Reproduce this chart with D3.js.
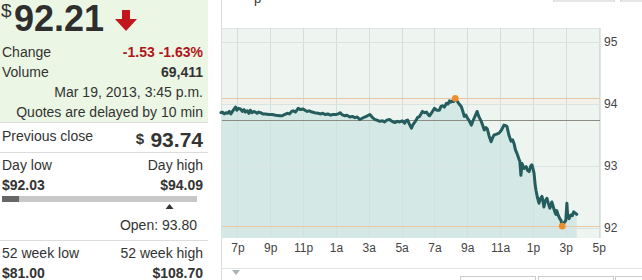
<!DOCTYPE html>
<meta charset="utf-8">
<script src="https://d3js.org/d3.v7.min.js"></script>
<style>
  body { margin: 0; background: #fff; }
  svg text { font-family: "Liberation Sans", Arial, sans-serif; fill: #333; }
</style>
<body>
<div id="quote"></div>
<script>
// intraday prices, 18 Mar 6p -> 19 Mar 3:40p
var times = ["18:00","18:05","18:12","18:18","18:24","18:30","18:36","18:45","18:53","18:58",
  "19:04","19:11","19:18","19:24","19:29","19:36","19:42","19:47","19:53","20:00",
  "20:05","20:12","20:18","20:24","20:33","20:42","20:55","21:07","21:20","21:35",
  "21:44","21:52","22:02","22:10","22:18","22:24","22:32","22:42","22:50","23:00",
  "23:07","23:15","23:22","23:33","23:42","23:55","00:05","00:12","00:20","00:30",
  "00:40","00:49","01:00","01:08","01:15","01:22","01:33","01:40","01:51","02:00",
  "02:09","02:18","02:27","02:36","02:45","02:55","03:04","03:12","03:22","03:30",
  "03:40","03:50","03:58","04:06","04:16","04:25","04:35","04:44","04:53","05:02",
  "05:11","05:16","05:22","05:28","05:36","05:42","05:47","05:53","05:58","06:06",
  "06:16","06:24","06:31","06:37","06:42","06:50","07:00","07:08","07:18","07:24",
  "07:29","07:36","07:44","07:50","07:55","08:00","08:05","08:10","08:16","08:20",
  "08:24","08:30","08:38","08:44","08:49","08:55","09:00","09:08","09:15","09:20",
  "09:25","09:30","09:36","09:42","09:51","09:56","10:02","10:08","10:13","10:20",
  "10:27","10:33","10:38","10:45","10:56","11:05","11:14","11:20","11:25","11:32",
  "11:40","11:46","11:51","11:56","12:02","12:08","12:12","12:16","12:20","12:27",
  "12:35","12:40","12:46","12:52","12:56","13:00","13:04","13:08","13:11","13:16",
  "13:22","13:27","13:33","13:37","13:40","13:45","13:51","13:56","14:02","14:06",
  "14:09","14:15","14:20","14:24","14:27","14:33","14:38","14:42","14:47","14:52",
  "14:56","15:00","15:04","15:07","15:12","15:18","15:24","15:29","15:35","15:40"];
var prices = [93.86,93.87,93.84,93.86,93.85,93.88,93.84,93.90,93.95,93.90,
  93.93,93.92,93.88,93.91,93.87,93.89,93.85,93.90,93.86,93.88,
  93.87,93.85,93.87,93.86,93.84,93.84,93.83,93.83,93.82,93.81,
  93.81,93.83,93.85,93.84,93.88,93.89,93.87,93.93,93.91,93.92,
  93.90,93.88,93.89,93.87,93.86,93.85,93.84,93.85,93.83,93.84,
  93.82,93.83,93.83,93.84,93.86,93.83,93.81,93.82,93.79,93.80,
  93.78,93.79,93.75,93.77,93.79,93.81,93.83,93.79,93.75,93.74,
  93.72,93.73,93.71,93.74,93.75,93.72,93.70,93.72,93.71,93.73,
  93.69,93.73,93.74,93.68,93.61,93.67,93.70,93.74,93.78,93.80,
  93.88,93.86,93.87,93.83,93.81,93.86,93.93,93.90,93.90,93.96,
  93.97,93.95,94.01,94.00,94.05,94.03,94.05,94.04,94.09,94.06,
  94.04,94.00,93.96,93.88,93.80,93.82,93.78,93.72,93.66,93.72,
  93.77,93.82,93.88,93.80,93.72,93.66,93.58,93.62,93.60,93.48,
  93.39,93.46,93.50,93.51,93.53,93.58,93.66,93.65,93.64,93.50,
  93.40,93.42,93.36,93.26,93.20,93.12,93.08,92.85,93.04,92.96,
  92.99,92.93,92.91,93.00,93.02,92.96,92.88,92.70,92.61,92.50,
  92.40,92.47,92.51,92.42,92.34,92.44,92.48,92.40,92.32,92.38,
  92.42,92.33,92.26,92.22,92.28,92.20,92.15,92.13,92.03,92.07,
  92.10,92.12,92.40,92.18,92.15,92.21,92.20,92.26,92.24,92.22];

var lastPrice = 92.21, prevClose = 93.74, dayLow = 92.03, dayHigh = 94.09, openPrice = 93.80;
var yTicks = [92, 93, 94, 95];
var xTickTimes = ["19:00","21:00","23:00","01:00","03:00","05:00","07:00","09:00","11:00","13:00","15:00","17:00"];

function toDate(s) {
  var p = s.split(":"), h = +p[0], m = +p[1];
  return h >= 18 ? new Date(2013, 2, 18, h, m) : new Date(2013, 2, 19, h, m);
}
var data = times.map(function(t, i) { return { t: toDate(t), v: prices[i] }; });

var svg = d3.select("#quote").append("svg")
  .attr("width", 642).attr("height", 280);

// ---------- left quote panel ----------
svg.append("rect").attr("x", 0).attr("y", 0).attr("width", 208).attr("height", 122).attr("fill", "#ebf7e4");
function hline(y, x1, x2) {
  svg.append("line").attr("x1", x1).attr("x2", x2).attr("y1", y).attr("y2", y)
    .attr("stroke", "#dcdcdc");
}
hline(122.5, 0, 208); hline(152.5, 0, 208); hline(240.5, 0, 208);

function txt(x, y, s, opt) {
  opt = opt || {};
  return svg.append("text").attr("x", x).attr("y", y).text(s)
    .attr("text-anchor", opt.anchor || "start")
    .style("font-size", (opt.size || 14) + "px")
    .style("font-weight", opt.bold ? "bold" : "normal")
    .style("fill", opt.color || "#333");
}
txt(1, 17, "$", { size: 19 });
txt(14, 31, d3.format(".2f")(lastPrice), { size: 36, bold: true, color: "#2e2e2e" });
svg.append("path").attr("d", "M122,10 H130 V19 H137 L126,31 L115,19 H122 Z").attr("fill", "#c2161d");

txt(2, 57, "Change");
txt(203, 57, "-1.53 -1.63%", { anchor: "end", bold: true, color: "#b3141a" });
txt(2, 77, "Volume");
txt(203, 77, "69,411", { anchor: "end", bold: true });
txt(203, 97, "Mar 19, 2013, 3:45 p.m.", { anchor: "end" });
txt(203, 117, "Quotes are delayed by 10 min", { anchor: "end" });

txt(2, 141, "Previous close");
txt(203, 147, d3.format(".2f")(prevClose), { anchor: "end", bold: true, size: 21 });
txt(144, 144, "$", { anchor: "end", bold: true, size: 15 });

txt(2, 170, "Day low");
txt(203, 170, "Day high", { anchor: "end" });
txt(2, 190, "$" + d3.format(".2f")(dayLow), { bold: true });
txt(203, 190, "$" + d3.format(".2f")(dayHigh), { anchor: "end", bold: true });

// day range bar
var rangeX = d3.scaleLinear().domain([dayLow, dayHigh]).range([2, 197]);
svg.append("rect").attr("x", 2).attr("y", 196).attr("width", 195).attr("height", 6).attr("fill", "#c8c8c8");
svg.append("rect").attr("x", 2).attr("y", 196).attr("width", rangeX(lastPrice) - 2)
  .attr("height", 6).attr("fill", "#666");
var ox = rangeX(openPrice);
svg.append("path").attr("d", "M" + (ox - 4) + ",209 L" + (ox + 4) + ",209 L" + ox + ",204 Z").attr("fill", "#333");
txt(197, 230, "Open: " + d3.format(".2f")(openPrice), { anchor: "end" });

txt(2, 258, "52 week low");
txt(203, 258, "52 week high", { anchor: "end" });
txt(2, 278, "$81.00", { bold: true });
txt(203, 278, "$108.70", { anchor: "end", bold: true });

// ---------- chart panel ----------
svg.append("line").attr("x1", 221.5).attr("x2", 221.5).attr("y1", 0).attr("y2", 280).attr("stroke", "#dcdcdc");
svg.append("line").attr("x1", 221).attr("x2", 642).attr("y1", 268.5).attr("y2", 268.5).attr("stroke", "#e2e2e2");
svg.append("text").attr("x", 254).attr("y", 3).text("p").style("font-size", "13px");
svg.append("rect").attr("x", 553.5).attr("y", -5).attr("width", 61).attr("height", 6).attr("fill", "none").attr("stroke", "#ccc");
svg.append("rect").attr("x", 620.5).attr("y", -5).attr("width", 30).attr("height", 6).attr("fill", "none").attr("stroke", "#ccc");
[[460, 75], [538, 75], [615, 40]].forEach(function(b) {
  svg.append("rect").attr("x", b[0] + 0.5).attr("y", 276.5).attr("width", b[1]).attr("height", 10)
    .attr("fill", "#fff").attr("stroke", "#ccc");
});
svg.append("path").attr("d", "M232,270 L240,270 L236,275 Z").attr("fill", "#aab3b8");

var x = d3.scaleTime().domain([new Date(2013, 2, 18, 18, 0), new Date(2013, 2, 19, 17, 5)]).range([221, 600]);
var y = d3.scaleLinear().domain([92, 95]).range([228, 42]);
var plotTop = 28, plotBottom = 238, plotLeft = 222, plotRight = 600;

var g = svg.append("g");
g.append("rect").attr("x", plotLeft).attr("y", plotTop).attr("width", plotRight - plotLeft)
  .attr("height", plotBottom - plotTop).attr("fill", "#eef5f1");
g.append("line").attr("x1", plotLeft).attr("x2", plotRight).attr("y1", plotTop + 0.5).attr("y2", plotTop + 0.5).attr("stroke", "#dfe6e3");
g.append("line").attr("x1", plotRight + 0.5).attr("x2", plotRight + 0.5).attr("y1", plotTop).attr("y2", plotBottom).attr("stroke", "#dfe6e3");
// band between the day high and the 94 line
g.append("rect").attr("x", plotLeft).attr("width", plotRight - plotLeft).attr("y", y(dayHigh))
  .attr("height", y(94) - y(dayHigh)).attr("fill", "#f3f1e9");

// area
var area = d3.area().x(function(d) { return x(d.t); }).y0(plotBottom).y1(function(d) { return y(d.v); });
g.append("path").datum(data).attr("d", area).attr("fill", "#d4e9e5");

// grid
var xTicks = xTickTimes.map(toDate);
g.selectAll(".vg").data(xTicks.filter(function(d) { return x(d) < plotRight; })).enter().append("line")
  .attr("x1", function(d) { return Math.round(x(d)) + 0.5; }).attr("x2", function(d) { return Math.round(x(d)) + 0.5; })
  .attr("y1", plotTop).attr("y2", plotBottom).attr("stroke", "#d3dfdb");
g.selectAll(".hg").data(yTicks).enter().append("line")
  .attr("x1", plotLeft).attr("x2", plotRight)
  .attr("y1", function(d) { return Math.round(y(d)) + 0.5; }).attr("y2", function(d) { return Math.round(y(d)) + 0.5; })
  .attr("stroke", "#d9e3df");

// reference lines
[dayHigh, dayLow].forEach(function(v) {
  g.append("line").attr("x1", plotLeft).attr("x2", plotRight).attr("y1", Math.round(y(v)) + 0.5).attr("y2", Math.round(y(v)) + 0.5)
    .attr("stroke", "#e9c7a2");
});
g.append("line").attr("x1", plotLeft).attr("x2", plotRight).attr("y1", Math.round(y(prevClose)) + 0.5).attr("y2", Math.round(y(prevClose)) + 0.5)
  .attr("stroke", "#8c8c84");

// price line
var line = d3.line().x(function(d) { return x(d.t); }).y(function(d) { return y(d.v); });
g.append("path").datum(data).attr("d", line).attr("fill", "none")
  .attr("stroke", "#255c5d").attr("stroke-width", 3).attr("stroke-linejoin", "round").attr("stroke-linecap", "round");

// high / low markers
var hi = data.reduce(function(a, b) { return b.v > a.v ? b : a; });
var lo = data.reduce(function(a, b) { return b.v < a.v ? b : a; });
[hi, lo].forEach(function(d) {
  g.append("circle").attr("cx", x(d.t)).attr("cy", y(d.v)).attr("r", 3.3).attr("fill", "#ea8f2c");
});

// axes
var xAxis = d3.axisBottom(x).tickValues(xTicks).tickSize(0).tickPadding(4)
  .tickFormat(function(d) { var h = d.getHours(); return (h % 12 || 12) + (h < 12 ? "a" : "p"); });
var xa = svg.append("g").attr("transform", "translate(0," + (plotBottom + 1) + ")").call(xAxis);
xa.select(".domain").remove();
xa.selectAll("text").style("font-size", "12px").style("fill", "#444");

var yAxis = d3.axisRight(y).tickValues(yTicks).tickSize(0).tickPadding(3).tickFormat(d3.format("d"));
var ya = svg.append("g").attr("transform", "translate(601,0)").call(yAxis);
ya.select(".domain").remove();
ya.selectAll("text").style("font-size", "12px").style("fill", "#444");
</script>
